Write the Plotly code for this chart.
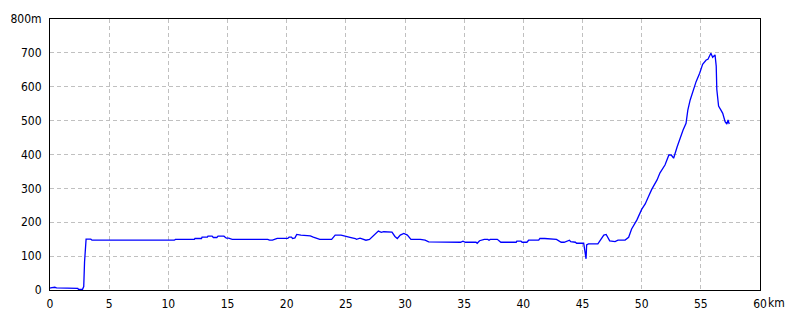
import plotly.graph_objects as go

distance_km = [0.0, 0.05, 0.4, 0.55, 2.35, 2.4, 2.75, 2.85, 2.92, 3.05, 3.45, 3.55, 10.5, 10.6,
               12.2, 12.25, 12.8, 12.85, 13.3, 13.35, 13.7, 13.8, 14.1, 14.2, 14.7, 14.9, 15.1,
               15.4, 18.4, 18.55, 18.8, 19.2, 20.1, 20.2, 20.4, 20.5, 20.7, 20.85, 21.2, 22.0,
               22.25, 22.6, 22.8, 23.8, 24.1, 24.6, 25.1, 25.35, 25.8, 25.9, 26.2, 26.5, 26.7,
               27.0, 27.4, 27.75, 28.0, 28.2, 28.9, 29.15, 29.35, 29.6, 29.9, 30.2, 30.5, 31.3,
               31.7, 32.0, 34.7, 34.9, 35.1, 36.0, 36.1, 36.3, 36.7, 37.0, 37.1, 37.2, 37.8,
               38.1, 39.4, 39.45, 39.8, 39.9, 40.3, 40.45, 41.3, 41.4, 41.8, 42.8, 43.2, 43.45,
               43.9, 44.0, 44.4, 44.5, 45.1, 45.2, 45.27, 45.3, 45.35, 45.5, 46.3, 46.5, 46.8,
               47.0, 47.1, 47.3, 47.75, 48.0, 48.6, 48.9, 49.15, 49.6, 50.0, 50.3, 50.55, 50.85,
               51.3, 51.55, 51.97, 52.3, 52.5, 52.7, 53.0, 53.3, 53.5, 53.75, 53.9, 54.1, 54.35,
               54.6, 54.9, 55.15, 55.45, 55.6, 55.85, 56.0, 56.2, 56.3, 56.35, 56.5, 56.7, 56.85,
               57.05, 57.2, 57.3, 57.4]
elevation_m = [5, 6, 8, 6, 5, 2, 2, 10, 83, 150, 150, 147, 147, 149.5,
               149.5, 152, 152, 156, 156, 159, 159, 155, 155, 159, 159, 153, 153,
               149.5, 149.5, 147, 147, 152.5, 152.5, 156, 156, 152, 154, 164, 162, 160,
               156, 152, 149.5, 149.5, 162, 162, 159, 155.6, 152, 149.5, 153, 149.5, 147,
               149.5, 164, 174, 170, 172, 171, 158, 152, 162, 167, 162, 149.5, 149.5,
               147, 142, 141, 144, 141, 141, 138, 145.5, 149.5, 149.5, 147, 149.5, 149.5,
               141, 141, 144, 144, 141, 141, 147, 147, 152.6, 152, 149.5, 141, 141,
               147, 143, 141, 138, 138, 120, 103, 92, 133, 136, 136, 148, 162,
               164, 156, 145, 143, 147, 147.6, 155.6, 180, 207, 238, 254, 274, 297,
               325, 346, 369, 398.5, 398.5, 389, 423, 455, 472, 492, 531, 561, 590,
               615, 640, 666, 679, 681, 699, 687, 694, 661, 592, 543, 531, 521.5,
               497, 490, 502, 490]

x_ticks = [0, 5, 10, 15, 20, 25, 30, 35, 40, 45, 50, 55, 60]
x_ticktext = ["0", "5", "10", "15", "20", "25", "30", "35", "40", "45", "50", "55", "60"]
y_ticks = [0, 100, 200, 300, 400, 500, 600, 700, 800]
y_ticktext = ["0", "100", "200", "300", "400", "500", "600", "700", "800m"]

FONT = "Liberation Sans Narrow, DejaVu Sans Condensed, Arial Narrow, sans-serif"

fig = go.Figure()
fig.add_trace(go.Scatter(x=distance_km, y=elevation_m, mode="lines",
                         line=dict(color="#0000ff", width=1.3), hoverinfo="skip"))

fig.update_layout(
    width=800, height=320,
    margin=dict(l=50, r=40, t=19, b=30, autoexpand=False),
    paper_bgcolor="white", plot_bgcolor="white",
    showlegend=False,
    font=dict(family=FONT, size=12, color="black"),
    xaxis=dict(range=[0, 60], tickvals=x_ticks, ticktext=x_ticktext, automargin=False,
               showgrid=True, gridcolor="#c0c0c0", griddash="4px,3px", gridwidth=1,
               showline=True, linecolor="black", linewidth=1, mirror=True,
               zeroline=False, ticks="", ticklabelstandoff=3,
               tickfont=dict(family=FONT, size=12, color="black")),
    yaxis=dict(range=[0, 800], tickvals=y_ticks, ticktext=y_ticktext, automargin=False,
               showgrid=True, gridcolor="#c0c0c0", griddash="4px,3px", gridwidth=1,
               showline=True, linecolor="black", linewidth=1, mirror=True,
               zeroline=False, ticks="", ticklabelstandoff=5,
               tickfont=dict(family=FONT, size=12, color="black")),
)
fig.add_annotation(text="km", xref="paper", yref="paper", x=1.008, y=0,
                   xanchor="left", yanchor="top", yshift=-4, showarrow=False,
                   font=dict(family=FONT, size=12, color="black"))

fig.write_html("out.html")
